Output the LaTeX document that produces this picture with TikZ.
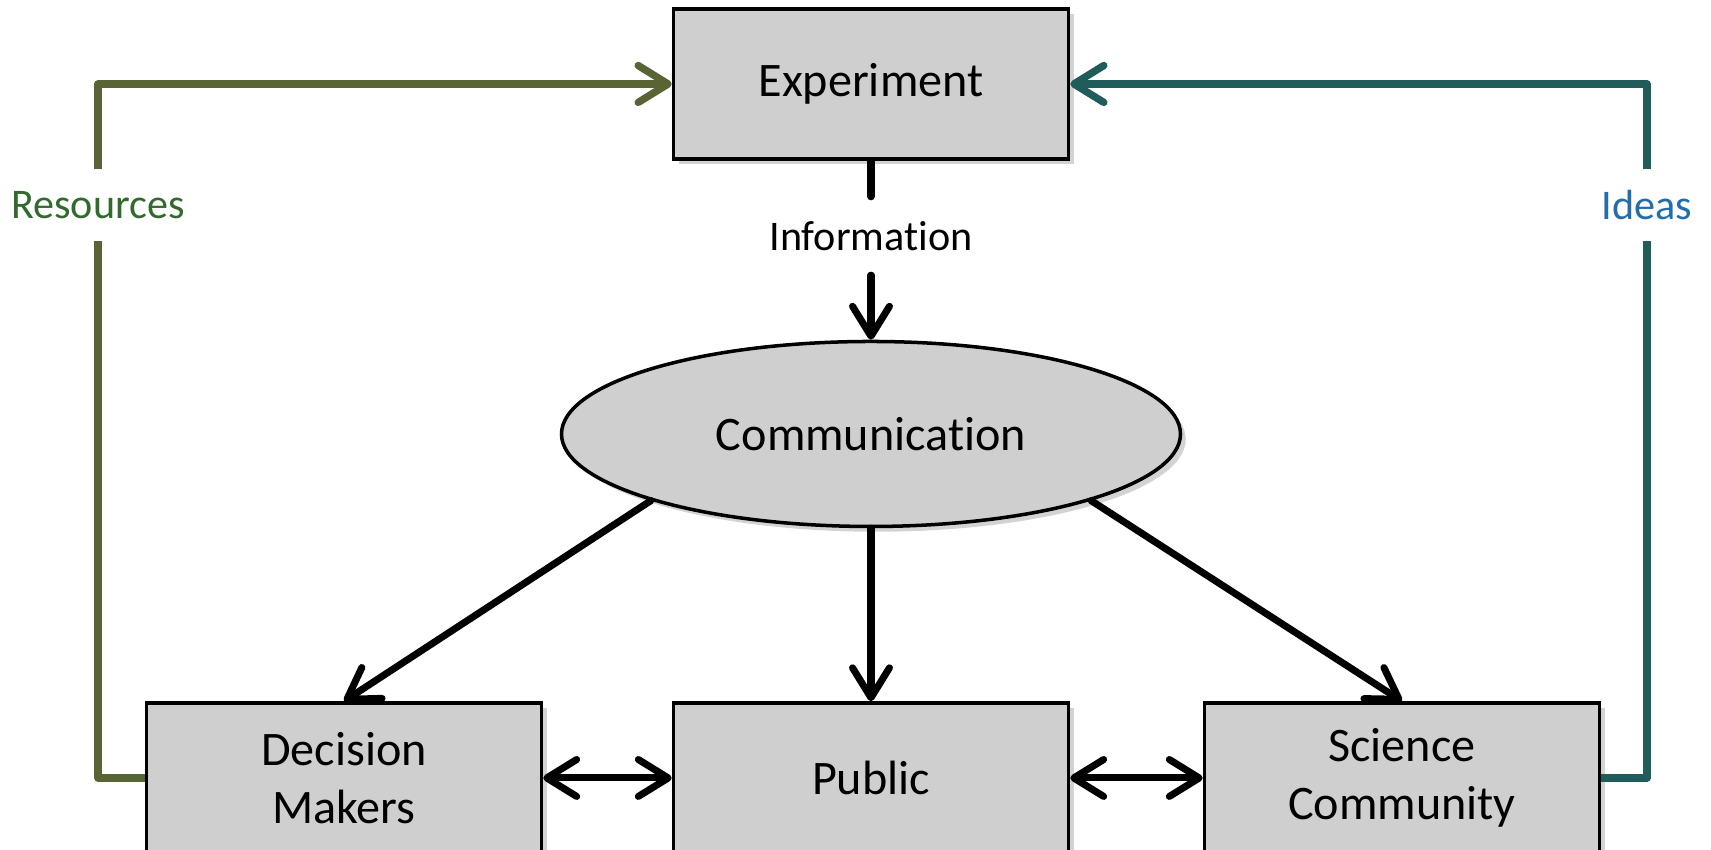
\documentclass[tikz,border=0pt]{standalone}
\usepackage{fontspec}
\setmainfont[Ligatures=NoCommon]{Carlito}
\usetikzlibrary{arrows.meta,shapes.geometric,shadows}
\definecolor{resgreen}{RGB}{88,100,52}
\definecolor{restext}{RGB}{50,105,45}
\definecolor{ideateal}{RGB}{31,92,90}
\definecolor{ideablue}{RGB}{35,110,170}
\begin{document}
\begin{tikzpicture}[>={Straight Barb[length=8.5pt,width=10.5pt,round]},
        box/.style={draw,line width=1pt,fill=black!19,minimum width=3.95cm,minimum height=1.5cm,align=center,
            font=\fontsize{13.7}{16.5}\selectfont,drop shadow={shadow xshift=1.5pt,shadow yshift=-1.5pt,opacity=0.35}},
        lbl/.style={fill=white,inner sep=2pt,minimum height=0.7cm,font=\fontsize{12}{14}\selectfont},
        flow/.style={line width=2pt,line cap=round},
        loop/.style={line width=2.1pt,line join=round}]
    \useasboundingbox (0,0) rectangle (17.11,8.5);
    \node[box] (exp) at (8.71,7.66) {Experiment};
    \node[box,ellipse,minimum width=6.19cm,minimum height=1.85cm] (comm) at (8.71,4.16) {Communication};
    \node[box] (dm) at (3.44,0.72) {Decision\\Makers};
    \node[box] (pub) at (8.71,0.72) {Public};
    \node[box] (sc) at (14.02,0.72) {Science\\Community};
    \node[lbl,minimum height=0.77cm] (info) at (8.71,6.14) {Information};
    \node[lbl,text=restext] (res) at (0.98,6.45) {Resources};
    \node[lbl,text=ideablue] (ideas) at (16.47,6.45) {Ideas};
    \draw[flow] (exp.south) -- (info.north);
    \draw[flow,->] (info.south) -- (comm.north);
    \draw[flow,->] (comm.south west) -- (dm.north);
    \draw[flow,->] (comm.south) -- (pub.north);
    \draw[flow,->] (comm.south east) -- (sc.north);
    \draw[flow,<->] (dm.east) -- (pub.west);
    \draw[flow,<->] (pub.east) -- (sc.west);
    \draw[loop,resgreen] (dm.west) -| (res.south);
    \draw[loop,resgreen,->] (res.north) |- (exp.west);
    \draw[loop,ideateal] (sc.east) -| (ideas.south);
    \draw[loop,ideateal,->] (ideas.north) |- (exp.east);
\end{tikzpicture}
\end{document}
